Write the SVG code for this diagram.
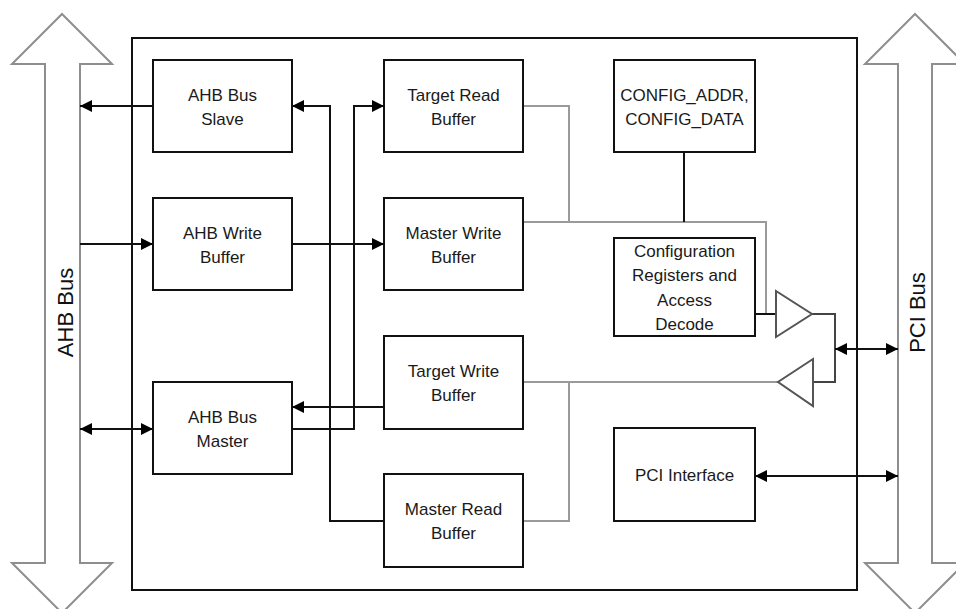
<svg xmlns="http://www.w3.org/2000/svg" width="956" height="609" viewBox="0 0 956 609">
<style>
.box{fill:#fff;stroke:#111;stroke-width:2}
.bus{fill:#fff;stroke:#8e8e8e;stroke-width:2;stroke-linejoin:miter}
.t{font-family:"Liberation Sans",Arial,sans-serif;font-size:17px;fill:#1a1a1a;text-anchor:middle}
.bt{font-family:"Liberation Sans",Arial,sans-serif;font-size:22px;fill:#111;text-anchor:middle}
.k{fill:none;stroke:#111;stroke-width:2}
.g{fill:none;stroke:#9a9a9a;stroke-width:2}
.d{fill:none;stroke:#444;stroke-width:2}
.tri{fill:#fff;stroke:#555;stroke-width:2;stroke-linejoin:miter}
</style>
<defs>
<marker id="ah" viewBox="0 0 12 12" refX="12" refY="6" markerWidth="12" markerHeight="12" markerUnits="userSpaceOnUse" orient="auto-start-reverse">
<path d="M0,0 L12,6 L0,12 z" fill="#000"/>
</marker>
</defs>
<rect width="956" height="609" fill="#fff"/>

<g id="ahb-bus">
<polygon class="bus" points="62,14 112,64 80,64 80,563 112,563 62,613 12,563 45,563 45,64 12,64"/>
<text class="bt" transform="translate(73,312.5) rotate(-90)">AHB Bus</text>
</g>
<g id="pci-bus">
<polygon class="bus" points="915,14 965,64 932,64 932,563 965,563 915,613 865,563 898,563 898,64 865,64"/>
<text class="bt" transform="translate(925,312.5) rotate(-90)">PCI Bus</text>
</g>

<g id="bridge">
<rect x="132" y="38" width="725" height="552" fill="none" stroke="#111" stroke-width="2"/>
</g>

<g id="connectors">
<polyline class="g" points="523,106 569,106 569,222"/>
<polyline class="g" points="523,222 766,222 766,314 776,314"/>
<polyline class="g" points="523,382 778,382"/>
<polyline class="g" points="569,382 569,521 523,521"/>
<line class="k" x1="684" y1="152" x2="684" y2="222"/>
<line class="k" x1="755" y1="314" x2="776" y2="314"/>
<polyline class="d" points="812,314 835,314 835,382 813,382"/>
<line class="k" x1="153" y1="106" x2="80" y2="106" marker-end="url(#ah)"/>
<polyline class="k" points="384,521 330,521 330,106 292,106" marker-end="url(#ah)"/>
<polyline class="k" points="292,429 354,429 354,106 384,106" marker-end="url(#ah)"/>
<line class="k" x1="80" y1="244" x2="153" y2="244" marker-end="url(#ah)"/>
<line class="k" x1="292" y1="244" x2="384" y2="244" marker-end="url(#ah)"/>
<line class="k" x1="384" y1="407" x2="292" y2="407" marker-end="url(#ah)"/>
<line class="k" x1="80" y1="429" x2="153" y2="429" marker-start="url(#ah)" marker-end="url(#ah)"/>
<line class="k" x1="835" y1="349" x2="898" y2="349" marker-start="url(#ah)" marker-end="url(#ah)"/>
<line class="k" x1="755" y1="476" x2="898" y2="476" marker-start="url(#ah)" marker-end="url(#ah)"/>
</g>

<g id="out-driver"><polygon class="tri" points="776,291 776,337 812,314"/></g>
<g id="in-driver"><polygon class="tri" points="813,359 813,406 778,382"/></g>

<g id="ahb-bus-slave">
<rect class="box" x="153" y="60" width="139" height="92"/>
<text class="t" x="222.5" y="101">AHB Bus</text>
<text class="t" x="222.5" y="125">Slave</text>
</g>
<g id="ahb-write-buffer">
<rect class="box" x="153" y="198" width="139" height="92"/>
<text class="t" x="222.5" y="239">AHB Write</text>
<text class="t" x="222.5" y="263">Buffer</text>
</g>
<g id="ahb-bus-master">
<rect class="box" x="153" y="382" width="139" height="92"/>
<text class="t" x="222.5" y="423">AHB Bus</text>
<text class="t" x="222.5" y="447">Master</text>
</g>
<g id="target-read-buffer">
<rect class="box" x="384" y="60" width="139" height="92"/>
<text class="t" x="453.5" y="101">Target Read</text>
<text class="t" x="453.5" y="125">Buffer</text>
</g>
<g id="master-write-buffer">
<rect class="box" x="384" y="198" width="139" height="92"/>
<text class="t" x="453.5" y="239">Master Write</text>
<text class="t" x="453.5" y="263">Buffer</text>
</g>
<g id="target-write-buffer">
<rect class="box" x="384" y="336" width="139" height="93"/>
<text class="t" x="453.5" y="377">Target Write</text>
<text class="t" x="453.5" y="401">Buffer</text>
</g>
<g id="master-read-buffer">
<rect class="box" x="384" y="474" width="139" height="93"/>
<text class="t" x="453.5" y="515">Master Read</text>
<text class="t" x="453.5" y="539">Buffer</text>
</g>
<g id="config-addr-data">
<rect class="box" x="614" y="60" width="141" height="92"/>
<text class="t" x="684.5" y="101">CONFIG_ADDR,</text>
<text class="t" x="684.5" y="125">CONFIG_DATA</text>
</g>
<g id="config-registers">
<rect class="box" x="614" y="238" width="141" height="98"/>
<text class="t" x="684.5" y="257">Configuration</text>
<text class="t" x="684.5" y="281">Registers and</text>
<text class="t" x="684.5" y="306">Access</text>
<text class="t" x="684.5" y="330">Decode</text>
</g>
<g id="pci-interface">
<rect class="box" x="614" y="428" width="141" height="93"/>
<text class="t" x="684.5" y="481">PCI Interface</text>
</g>
</svg>
